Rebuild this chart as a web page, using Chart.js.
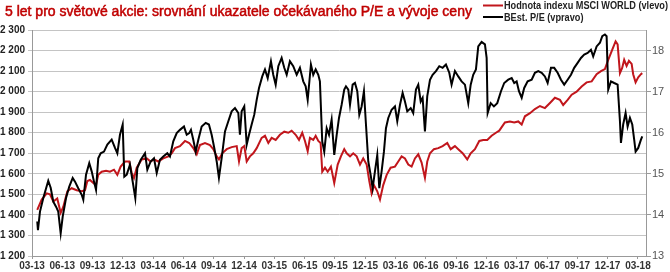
<!DOCTYPE html>
<html>
<head>
<meta charset="utf-8">
<script src="https://cdn.jsdelivr.net/npm/chart.js@4.4.0/dist/chart.umd.min.js"></script>
<style>
  html, body { margin: 0; padding: 0; background: #fff; }
</style>
</head>
<body>
<canvas id="chart" width="670" height="272"></canvas>
<script>
// texts
var chartTitle = '5 let pro světové akcie: srovnání ukazatele očekávaného P/E a vývoje ceny';
var msciLabel = 'Hodnota indexu MSCI WORLD (vlevo)';
var peLabel = 'BEst. P/E (vpravo)';

// x axis: months counted from the 03-13 tick, one label per quarter
var quarterLabels = ['03-13','06-13','09-13','12-13','03-14','06-14','09-14','12-14','03-15','06-15','09-15',
                     '12-15','03-16','06-16','09-16','12-16','03-17','06-17','09-17','12-17','03-18'];

// MSCI World (left axis)
var msciMonths = [0.52,0.96,1.46,1.78,2.11,2.50,2.84,3.10,3.50,3.93,
  4.43,4.92,5.25,5.48,5.74,6.07,6.34,6.56,6.90,7.33,
  7.72,8.12,8.45,8.78,9.21,9.63,9.87,10.10,10.37,10.86,
  11.36,11.75,12.08,12.50,13.00,13.50,13.83,14.16,14.65,15.15,
  15.57,15.97,16.31,16.63,17.13,17.62,17.95,18.29,18.51,18.84,
  19.28,19.77,20.27,20.50,20.76,21.02,21.26,21.58,21.91,22.25,
  22.74,23.07,23.40,23.73,24.13,24.55,24.98,25.38,25.71,26.11,
  26.44,26.76,27.03,27.30,27.52,27.85,28.09,28.35,28.58,28.74,
  29.01,29.28,29.60,29.93,30.27,30.59,30.92,31.16,31.49,31.81,
  32.15,32.48,32.80,33.14,33.40,33.63,33.86,34.19,34.46,34.78,
  35.12,35.51,35.94,36.27,36.60,36.93,37.26,37.59,37.92,38.25,
  38.58,38.91,39.14,39.41,39.80,40.23,40.66,41.12,41.46,41.88,
  42.21,42.64,43.10,43.44,43.86,44.29,44.68,45.08,45.51,45.94,
  46.27,46.83,47.33,47.75,48.15,48.49,48.81,49.31,49.80,50.30,
  50.79,51.29,51.78,52.28,52.60,53.04,53.44,53.93,54.43,54.92,
  55.42,55.91,56.34,56.73,57.06,57.46,57.79,57.99,58.22,58.44,
  58.64,58.88,59.11,59.38,59.53,59.77,60.03,60.30,60.43];
var msciValues = [1425,1475,1505,1500,1465,1480,1410,1440,1515,1530,
  1520,1515,1520,1565,1570,1555,1545,1595,1610,1615,
  1610,1620,1595,1635,1660,1660,1605,1580,1630,1670,
  1675,1660,1670,1660,1675,1685,1700,1725,1735,1760,
  1750,1725,1695,1740,1750,1740,1720,1685,1670,1700,
  1720,1730,1735,1660,1725,1735,1660,1685,1700,1725,
  1775,1785,1750,1775,1765,1790,1805,1800,1810,1790,
  1765,1800,1760,1710,1775,1765,1785,1760,1750,1610,
  1630,1610,1635,1555,1645,1685,1720,1700,1685,1700,
  1685,1645,1675,1645,1565,1505,1545,1515,1475,1545,
  1595,1630,1635,1660,1685,1675,1645,1635,1675,1695,
  1655,1580,1660,1700,1720,1725,1735,1750,1720,1735,
  1720,1700,1670,1700,1720,1760,1765,1765,1785,1800,
  1810,1850,1855,1850,1855,1840,1880,1895,1915,1930,
  1920,1945,1970,1960,1935,1960,1985,2000,2025,2045,
  2050,2085,2100,2110,2155,2205,2245,2230,2090,2115,
  2155,2125,2150,2135,2085,2045,2070,2085,2090];

// forward P/E (right axis)
var peMonths = [0.52,0.59,0.79,1.12,1.61,1.85,2.11,2.38,2.60,2.84,
  3.04,3.37,3.69,4.03,4.26,4.58,4.92,5.08,5.35,5.67,
  5.91,6.14,6.34,6.56,6.80,7.13,7.46,7.89,8.22,8.45,
  8.71,8.98,9.14,9.38,9.70,9.97,10.23,10.43,10.76,11.19,
  11.42,11.75,12.08,12.35,12.67,13.00,13.40,13.66,13.99,14.33,
  14.65,15.05,15.32,15.57,
  15.74,15.97,16.21,16.47,16.80,17.20,17.52,17.79,18.05,18.29,
  18.51,18.78,19.11,19.44,19.77,20.10,20.43,20.59,20.76,21.02,
  21.26,21.49,21.75,22.01,22.25,22.48,22.80,23.07,23.34,23.66,
  23.89,24.13,24.39,24.72,24.98,25.22,25.54,25.87,26.21,26.53,
  26.86,27.10,27.30,27.62,27.85,28.09,28.35,28.51,28.74,28.94,
  29.18,29.41,29.67,29.93,30.17,30.40,30.66,30.92,
  31.09,31.32,31.49,31.75,31.98,32.21,32.41,32.64,32.87,33.07,
  33.30,33.53,33.73,33.96,34.19,34.39,34.62,34.85,35.05,35.28,
  35.61,35.94,36.17,36.44,36.70,36.93,37.16,37.50,37.75,38.02,
  38.25,38.49,38.68,38.91,39.14,39.41,39.67,40.00,40.33,40.66,
  40.99,41.32,41.55,41.88,42.21,42.54,42.87,43.20,43.44,43.69,
  43.96,44.19,44.52,44.85,45.02,45.12,45.42,45.74,46.07,
  46.44,46.76,47.16,47.50,47.75,47.99,48.22,48.49,48.74,49.08,
  49.48,49.80,50.13,50.47,50.79,51.06,51.39,51.71,52.05,52.38,
  52.70,53.04,53.37,53.69,54.03,54.36,54.68,55.02,55.35,55.57,
  55.91,56.24,56.47,56.73,56.90,57.06,57.33,57.65,57.99,58.22,
  58.32,58.54,58.78,58.98,59.21,59.44,59.63,59.77,60.03,60.30,
  60.43];
var peValues = [13.84,13.63,14.08,14.41,14.83,14.66,14.32,14.20,14.08,13.55,
  13.96,14.41,14.69,14.90,14.81,14.65,14.49,14.37,14.98,15.26,
  15.06,14.81,14.61,15.38,15.50,15.54,15.71,15.83,15.63,15.50,
  15.95,16.20,14.93,14.98,15.22,14.81,14.41,15.14,15.34,15.50,
  15.10,15.30,15.38,15.02,15.34,15.42,15.50,15.42,15.79,15.99,
  16.07,16.15,15.95,15.99,
  16.07,15.83,15.54,15.83,16.15,16.24,16.20,15.95,15.63,15.30,
  14.90,15.38,16.03,16.28,16.52,16.60,16.48,15.95,16.52,16.64,
  15.71,15.95,16.20,16.44,16.80,17.09,17.37,17.54,17.33,17.74,
  17.41,17.17,17.62,17.82,17.58,17.41,17.74,17.62,17.41,17.58,
  17.25,17.13,16.80,17.66,17.41,17.54,17.41,17.25,15.79,15.54,
  16.11,15.95,16.32,15.46,15.95,16.36,16.68,17.05,
  17.13,17.05,16.68,17.17,17.21,17.01,16.44,16.64,17.01,16.20,
  15.30,14.98,14.65,15.06,15.46,14.65,15.06,15.54,16.11,16.36,
  16.56,16.64,16.28,16.68,16.97,16.76,16.52,16.60,16.48,17.05,
  17.17,16.76,16.85,16.03,16.89,17.29,17.41,17.50,17.62,17.58,
  17.66,17.46,17.17,17.50,17.37,17.25,17.17,16.72,17.17,17.41,
  17.54,18.10,18.21,18.15,17.82,16.48,16.72,16.64,16.72,
  17.01,17.21,17.29,17.33,17.21,17.25,17.01,16.85,17.09,17.25,
  17.29,17.46,17.50,17.46,17.37,17.21,17.58,17.58,17.46,17.29,
  17.17,17.29,17.41,17.58,17.70,17.82,17.90,17.94,18.02,17.86,
  18.10,18.19,18.35,18.39,18.35,17.05,17.25,17.21,17.17,16.28,
  15.75,16.20,16.48,16.15,16.36,16.20,15.83,15.54,15.63,15.83,
  15.91];

function toPoints(xs, ys) {
  return xs.map(function (x, i) { return { x: x, y: ys[i] }; });
}

function thousands(v) {
  return v >= 1000 ? Math.floor(v / 1000) + ' ' + String(v % 1000).padStart(3, '0') : String(v);
}

var red = '#C1161C';

// title + legend drawn by hand, legend sits top right in two rows
var headerPlugin = {
  id: 'header',
  afterDraw: function (chart) {
    var ctx = chart.ctx;
    ctx.save();
    ctx.textBaseline = 'middle';
    ctx.font = '14px Arial, "Liberation Sans"';
    ctx.fillStyle = '#C00000';
    ctx.strokeStyle = '#C00000';
    ctx.lineWidth = 0.5;
    ctx.fillText(chartTitle, 5, 12);
    ctx.strokeText(chartTitle, 5, 12);

    var rows = [[msciLabel, red, 5.5], [peLabel, '#000', 17]];
    ctx.font = 'bold 10px Arial, "Liberation Sans"';
    // squeeze so the long label ends at the right edge like the original
    var sx = 164 / ctx.measureText(msciLabel).width;
    rows.forEach(function (r) {
      ctx.strokeStyle = r[1];
      ctx.lineWidth = 2;
      ctx.beginPath();
      ctx.moveTo(483, r[2]);
      ctx.lineTo(503, r[2]);
      ctx.stroke();
      ctx.save();
      ctx.translate(504, r[2] + 1);
      ctx.scale(sx, 1);
      ctx.fillStyle = '#222';
      ctx.fillText(r[0], 0, 0);
      ctx.restore();
    });
    ctx.restore();
  }
};

var ctx = document.getElementById('chart').getContext('2d');
new Chart(ctx, {
  type: 'line',
  data: {
    datasets: [{
      label: msciLabel,
      data: toPoints(msciMonths, msciValues),
      borderColor: red,
      borderWidth: 2,
      pointRadius: 0,
      yAxisID: 'y',
      order: 1
    }, {
      label: peLabel,
      data: toPoints(peMonths, peValues),
      borderColor: '#000',
      borderWidth: 2,
      pointRadius: 0,
      yAxisID: 'y1',
      order: 0
    }]
  },
  options: {
    responsive: false,
    animation: false,
    layout: { padding: { top: 30, left: 0, right: 0, bottom: 0 } },
    plugins: { legend: { display: false }, tooltip: { enabled: false } },
    scales: {
      x: {
        type: 'linear',
        min: 0,
        max: 60.8,
        afterBuildTicks: function (s) {
          s.ticks = quarterLabels.map(function (l, i) { return { value: i * 3 }; });
        },
        afterFit: function (s) { s.height = 16; },
        grid: { drawOnChartArea: false, tickLength: 3, color: '#999' },
        border: { color: '#999' },
        ticks: {
          autoSkip: false, maxRotation: 0, padding: 1,
          color: '#333',
          font: { family: 'Arial', size: 10, weight: 'bold' },
          callback: function (v) { return quarterLabels[Math.round(v / 3)]; }
        }
      },
      y: {
        position: 'left',
        min: 1200,
        max: 2300,
        afterFit: function (s) { s.width = 32; },
        grid: { color: '#c4c4c4', tickLength: 4 },
        border: { color: '#999' },
        ticks: {
          stepSize: 100, padding: 3,
          color: '#222',
          font: { family: 'Arial', size: 10, weight: 'bold' },
          callback: function (v) { return thousands(v); }
        }
      },
      y1: {
        position: 'right',
        min: 13,
        max: 18.5,
        afterBuildTicks: function (s) {
          s.ticks = [13, 14, 15, 16, 17, 18].map(function (v) { return { value: v }; });
        },
        afterFit: function (s) { s.width = 24; },
        grid: { drawOnChartArea: false, tickLength: 5, color: '#999' },
        border: { color: '#999' },
        ticks: {
          padding: 1,
          color: '#555',
          font: { family: 'Arial', size: 11 }
        }
      }
    }
  },
  plugins: [headerPlugin]
});
</script>
</body>
</html>
